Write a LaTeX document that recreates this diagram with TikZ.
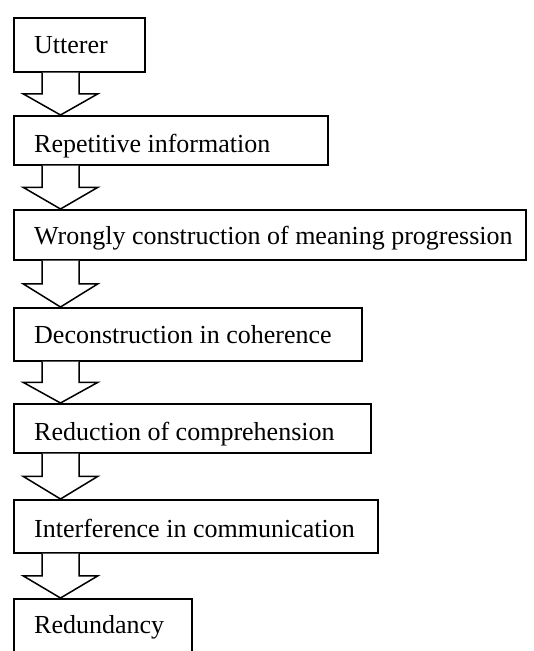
\documentclass[tikz,border=0pt]{standalone}
\usepackage{fontspec}
\setmainfont{Liberation Serif}
\usetikzlibrary{calc}
\begin{document}
\begin{tikzpicture}[x=1pt,y=-1pt,
  box/.style={draw, line width=1.5pt, anchor=north west, inner sep=0pt},
  lbl/.style={anchor=base west, inner sep=0pt, font=\fontsize{26}{30}\selectfont},
  blockarrow/.style={draw, line width=1.5pt, line join=miter, fill=white}]
\clip (0,0) rectangle (534,651);
\fill[white] (0,0) rectangle (534,651);
\node[box, minimum width=131pt, minimum height=54pt] (b1) at (13,17) {};
\node[box, minimum width=314pt, minimum height=49pt] (b2) at (13,115) {};
\node[box, minimum width=512pt, minimum height=50pt] (b3) at (13,209) {};
\node[box, minimum width=348pt, minimum height=53pt] (b4) at (13,307) {};
\node[box, minimum width=357pt, minimum height=49pt] (b5) at (13,403) {};
\node[box, minimum width=364pt, minimum height=53pt] (b6) at (13,499) {};
\node[box, minimum width=178pt, minimum height=80pt] (b7) at (13,598) {};
\node[lbl] (t1) at ($(b1.north west)+(21,36)$) {Utterer};
\node[lbl] (t2) at ($(b2.north west)+(21,37)$) {Repetitive information};
\node[lbl] (t3) at ($(b3.north west)+(21,35)$) {Wrongly construction of meaning progression};
\node[lbl] (t4) at ($(b4.north west)+(21,36)$) {Deconstruction in coherence};
\node[lbl] (t5) at ($(b5.north west)+(21,37)$) {Reduction of comprehension};
\node[lbl] (t6) at ($(b6.north west)+(21,38)$) {Interference in communication};
\node[lbl] (t7) at ($(b7.north west)+(21,35)$) {Redundancy};
\foreach \a/\b in {b1/b2,b2/b3,b3/b4,b4/b5,b5/b6,b6/b7}{
  \draw[blockarrow] let \p1=(\a.south west), \p2=(\b.north west) in
    ({\x1+29pt},\y1) -- ({\x1+29pt},{(\y1+\y2)/2}) -- ({\x1+10pt},{(\y1+\y2)/2})
    -- ({\x1+47.5pt},\y2) -- ({\x1+85pt},{(\y1+\y2)/2}) -- ({\x1+66pt},{(\y1+\y2)/2})
    -- ({\x1+66pt},\y1);
}
\end{tikzpicture}
\end{document}
